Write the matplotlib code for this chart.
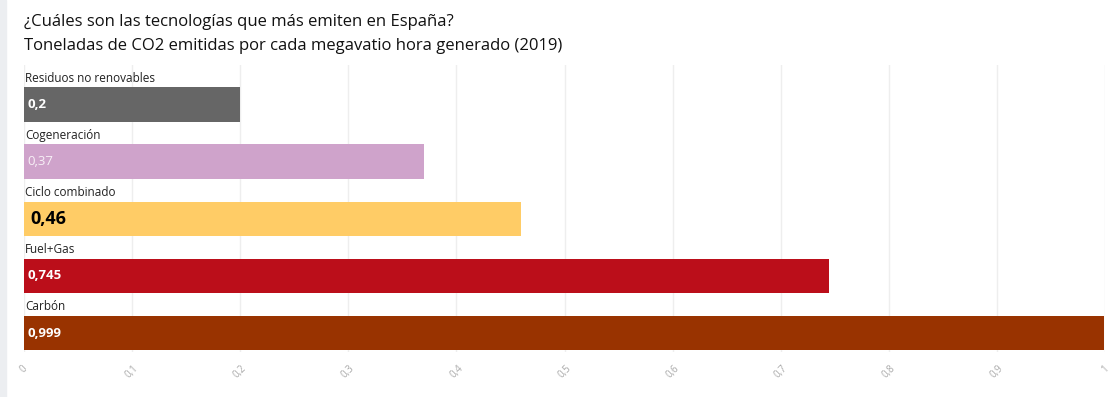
import matplotlib
matplotlib.use("Agg")
import matplotlib.pyplot as plt
import matplotlib.patches as mpatches

# --- DATA ---
tecnologias = ["Residuos no renovables", "Cogeneración", "Ciclo combinado", "Fuel+Gas", "Carbón"]
emisiones = [0.2, 0.37, 0.46, 0.745, 0.999]
etiquetas = ["0,2", "0,37", "0,46", "0,745", "0,999"]
colores = ["#666666", "#cfa3cb", "#ffcc66", "#bb0e1a", "#993300"]
ticks = [0, 0.1, 0.2, 0.3, 0.4, 0.5, 0.6, 0.7, 0.8, 0.9, 1]
tick_labels = ["0", "0,1", "0,2", "0,3", "0,4", "0,5", "0,6", "0,7", "0,8", "0,9", "1"]

plt.rcParams['font.family'] = ['Open Sans', 'DejaVu Sans']

W, H = 1112, 397
fig = plt.figure(figsize=(W / 100, H / 100), dpi=100)
fig.patch.set_facecolor("white")

# franja gris a la izquierda
fig.patches.append(mpatches.Rectangle((0, 0), 6 / W, 1, transform=fig.transFigure,
                                      color="#eceef1", zorder=0))

ax = fig.add_axes([24 / W, 1 - 352 / H, (1105 - 24) / W, (352 - 65) / H])
ax.set_xlim(0, 1)
ax.set_ylim(4.33, -0.69)

for x in ticks:
    ax.axvline(x, color="#eeeeee", linewidth=1, zorder=0)

pos = list(range(len(tecnologias)))
ax.barh(pos, emisiones, height=0.6, color=colores, zorder=2)

for i, (nombre, lab) in enumerate(zip(tecnologias, etiquetas)):
    ax.text(0.001, i - 0.46, nombre, va="center", ha="left", fontsize=8.5, color="#222222")
    if nombre == "Ciclo combinado":
        ax.text(0.006, i, lab, va="center", ha="left", fontsize=13, fontweight="bold",
                color="black", zorder=3)
    elif nombre == "Cogeneración":
        ax.text(0.003, i, lab, va="center", ha="left", fontsize=9.5,
                color="#f7f0f6", zorder=3)
    else:
        ax.text(0.003, i, lab, va="center", ha="left", fontsize=9.5, fontweight="bold",
                color="white", zorder=3)

ax.set_xticks(ticks)
ax.set_xticklabels(tick_labels, rotation=45, fontsize=7, color="#aaaaaa")
ax.tick_params(axis="x", length=0, pad=8)
ax.set_yticks([])
for s in ax.spines.values():
    s.set_visible(False)

fig.text(24 / W, 1 - 22 / H, "¿Cuáles son las tecnologías que más emiten en España?",
         fontsize=12, va="center", ha="left", color="#111111")
fig.text(24 / W, 1 - 46 / H, "Toneladas de CO2 emitidas por cada megavatio hora generado (2019)",
         fontsize=12, va="center", ha="left", color="#111111")

fig.savefig("out.png", dpi=100)
